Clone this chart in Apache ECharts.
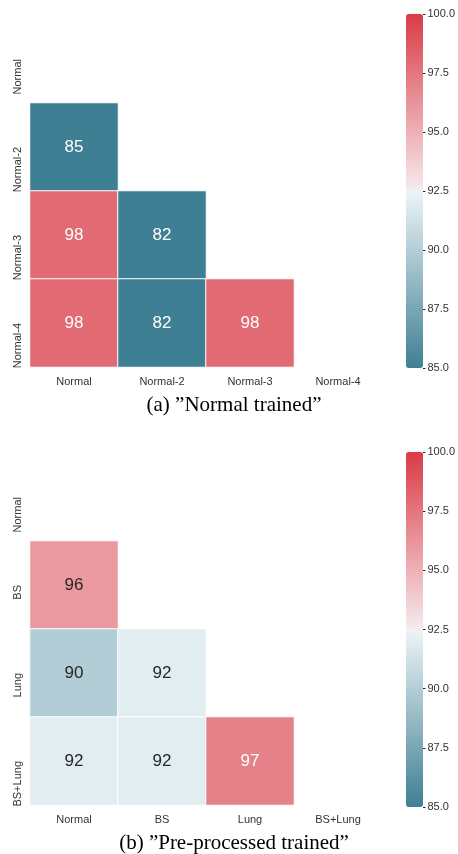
<!DOCTYPE html>
<html>
<head>
<meta charset="utf-8">
<script src="https://cdn.jsdelivr.net/npm/echarts@6/dist/echarts.min.js"></script>
<style>
  html, body { margin: 0; padding: 0; background: #fff; }
  #chart { width: 458px; height: 854px; }
</style>
</head>
<body>
<div id="chart"></div>
<script>
// Category labels (rows top-to-bottom, columns left-to-right)
const labelsA = ['Normal', 'Normal-2', 'Normal-3', 'Normal-4'];
const labelsB = ['Normal', 'BS', 'Lung', 'BS+Lung'];

// Lower-triangle accuracies; row i holds columns 0..i-1 (diagonal and upper masked)
const valuesA = [[], [85], [98, 82], [98, 82, 98]];
const valuesB = [[], [96], [90, 92], [92, 92, 97]];

// Colour-bar range and tick labels
const scaleMin = 85;
const scaleMax = 100;
const cbarStep = 2.5;

const captionA = '(a) \u201DNormal trained\u201D';
const captionB = '(b) \u201DPre-processed trained\u201D';

// Diverging palette: teal -> light grey -> red, linear in RGB
const stops = [
  [0.0, [63, 127, 147]],
  [0.496, [236, 244, 247]],
  [0.5, [242, 242, 242]],
  [0.504, [246, 234, 236]],
  [1.0, [218, 59, 70]]
];
function rgbAt(t) {
  t = Math.max(0, Math.min(1, t));
  for (let i = 1; i < stops.length; i++) {
    if (t <= stops[i][0]) {
      const a = stops[i - 1], b = stops[i];
      const f = (t - a[0]) / (b[0] - a[0]);
      return a[1].map((c, k) => Math.round(c + (b[1][k] - c) * f));
    }
  }
  return stops[stops.length - 1][1];
}
function hex(rgb) {
  return '#' + rgb.map(c => c.toString(16).padStart(2, '0')).join('');
}
const paletteN = 251;
const palette = [];
for (let i = 0; i < paletteN; i++) palette.push(hex(rgbAt(i / (paletteN - 1))));

function luminance(rgb) {
  const lin = rgb.map(c => {
    c /= 255;
    return c <= 0.03928 ? c / 12.92 : Math.pow((c + 0.055) / 1.055, 2.4);
  });
  return 0.2126 * lin[0] + 0.7152 * lin[1] + 0.0722 * lin[2];
}

function buildCells(values) {
  const out = [];
  values.forEach((row, r) => {
    row.forEach((v, c) => {
      const rgb = rgbAt((v - scaleMin) / (scaleMax - scaleMin));
      out.push({
        value: [c, r, v],
        label: { color: luminance(rgb) > 0.408 ? '#262626' : '#ffffff' }
      });
    });
  });
  return out;
}

const tickFont = { fontFamily: 'Liberation Sans, Arial, sans-serif', fontSize: 11, color: '#333333' };

const heatGrids = [
  { left: 30, top: 15, width: 352, height: 352 },
  { left: 30, top: 453, width: 352, height: 352 }
];
const barBoxes = [
  { left: 406, top: 14, width: 17, height: 354 },
  { left: 406, top: 452, width: 17, height: 355 }
];
// narrow strips right of each colour bar: tick marks + tick labels
const tickGrids = barBoxes.map(b => ({ left: b.left + b.width, top: b.top, width: 5, height: b.height }));

function catX(idx, labels) {
  return {
    type: 'category', gridIndex: idx, data: labels,
    axisLine: { show: false }, axisTick: { show: false }, splitArea: { show: false },
    axisLabel: Object.assign({ margin: 9, interval: 0 }, tickFont)
  };
}
function catY(idx, labels) {
  return {
    type: 'category', gridIndex: idx, data: labels, inverse: true,
    axisLine: { show: false }, axisTick: { show: false }, splitArea: { show: false },
    axisLabel: Object.assign({ margin: 7, rotate: 90, interval: 0, align: 'right' }, tickFont)
  };
}
function barX(idx) {
  return { type: 'value', gridIndex: idx, show: false, min: 0, max: 1 };
}
function barY(idx) {
  return {
    type: 'value', gridIndex: idx, position: 'right',
    min: scaleMin, max: scaleMax, interval: cbarStep,
    axisLine: { show: false },
    axisTick: { show: false },
    splitLine: { show: true, lineStyle: { color: '#262626', width: 1 } },
    axisLabel: Object.assign({ margin: 2, formatter: v => v.toFixed(1) }, tickFont)
  };
}

function heatSeries(xi, values) {
  return {
    type: 'heatmap', xAxisIndex: xi, yAxisIndex: xi,
    data: buildCells(values),
    itemStyle: { borderColor: '#ffffff', borderWidth: 1 },
    label: {
      show: true, fontSize: 17, fontFamily: 'Liberation Sans, Arial, sans-serif',
      formatter: p => String(p.value[2])
    },
    emphasis: { disabled: true }
  };
}

function colorBar(seriesIdx, g) {
  return {
    type: 'continuous', seriesIndex: seriesIdx, min: scaleMin, max: scaleMax,
    calculable: false, orient: 'vertical', padding: 0,
    left: g.left, top: g.top, itemWidth: g.width, itemHeight: g.height,
    inRange: { color: palette }, hoverLink: false
  };
}

const chart = echarts.init(document.getElementById('chart'), null, { renderer: 'canvas' });
chart.setOption({
  backgroundColor: '#ffffff',
  animation: false,
  grid: [heatGrids[0], heatGrids[1], tickGrids[0], tickGrids[1]],
  xAxis: [catX(0, labelsA), catX(1, labelsB), barX(2), barX(3)],
  yAxis: [catY(0, labelsA), catY(1, labelsB), barY(2), barY(3)],
  visualMap: [colorBar(0, barBoxes[0]), colorBar(1, barBoxes[1])],
  series: [heatSeries(0, valuesA), heatSeries(1, valuesB)],
  graphic: [
    { type: 'text', x: 234, y: 405, style: { text: captionA, font: '21px "Liberation Serif", "Times New Roman", serif', fill: '#000', align: 'center', verticalAlign: 'middle' } },
    { type: 'text', x: 234, y: 843, style: { text: captionB, font: '21px "Liberation Serif", "Times New Roman", serif', fill: '#000', align: 'center', verticalAlign: 'middle' } }
  ]
});
</script>
</body>
</html>
